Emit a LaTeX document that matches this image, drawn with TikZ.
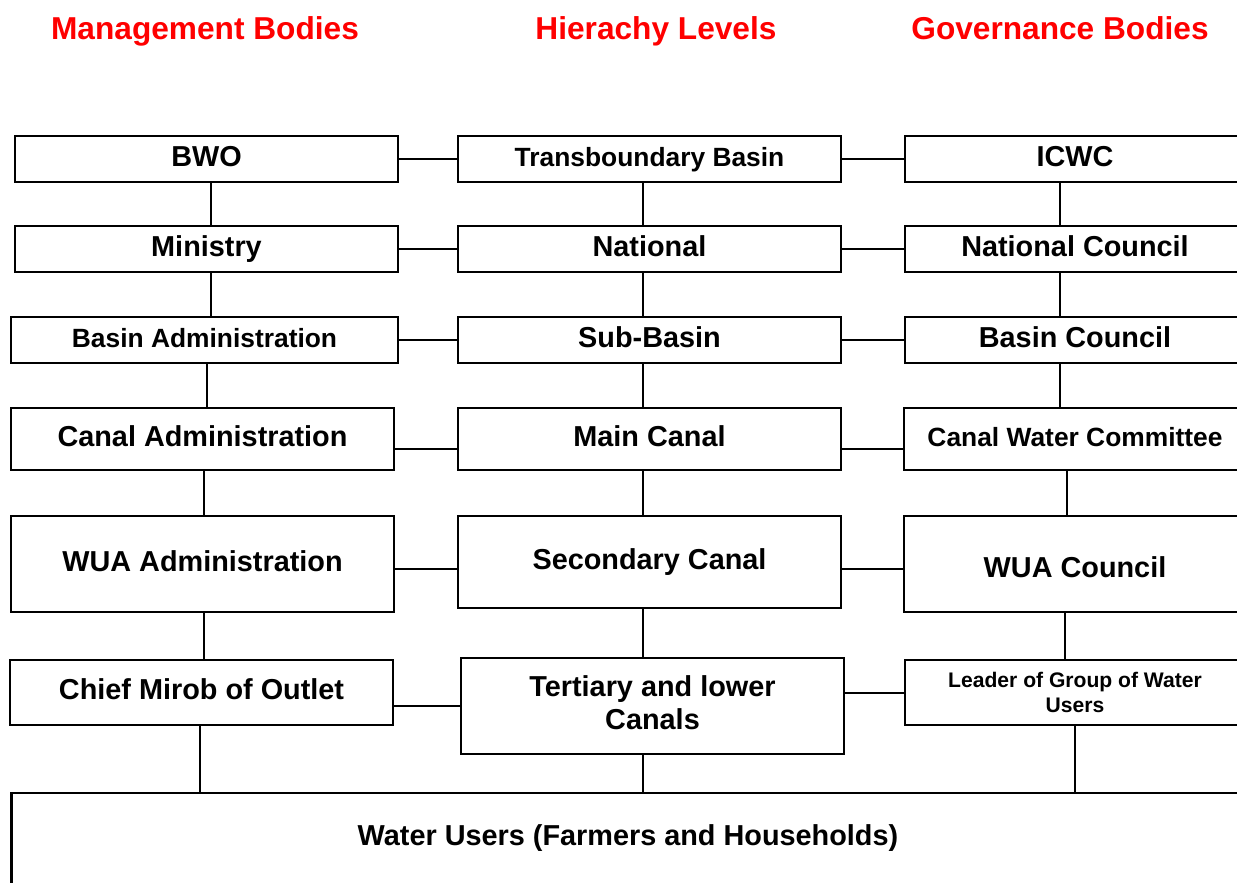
\documentclass[tikz,border=0pt]{standalone}
\usepackage{fontspec}
\setmainfont{Liberation Sans}

\begin{document}
\begin{tikzpicture}[x=0.01cm, y=-0.01cm,
    head/.style={text=red, font=\fontsize{9}{11}\selectfont\bfseries, text height=0.75em, text depth=0.25em},
    box/.style={draw, line width=0.7pt, inner sep=1pt, align=center, font=\fontsize{8.2}{9.4}\selectfont\bfseries},
    lift/.style={text height=0.75em, text depth=0.35em},
    small/.style={font=\fontsize{7.5}{9}\selectfont\bfseries},
    link/.style={line width=0.5pt}]

\useasboundingbox (0,0) rectangle (1237,882);
\clip (0,0) rectangle (1237,882);

\node[head] (mgmt) at (205,31) {Management Bodies};
\node[head] (levels) at (656,31) {Hierachy Levels};
\node[head] (gov) at (1060,31) {Governance Bodies};

\node[box, lift, minimum width=3.83cm, minimum height=0.46cm] (bwo) at (206.5,159) {BWO};
\node[box, minimum width=3.83cm, minimum height=0.46cm] (ministry) at (206.5,249) {Ministry};
\node[box, small, lift, minimum width=3.87cm, minimum height=0.46cm] (basinadm) at (204.5,340) {Basin Administration};
\node[box, lift, minimum width=3.83cm, minimum height=0.62cm] (canaladm) at (202.5,439) {Canal Administration};
\node[box, lift, minimum width=3.83cm, minimum height=0.96cm] (wuaadm) at (202.5,564) {WUA Administration};
\node[box, lift, minimum width=3.83cm, minimum height=0.65cm] (mirob) at (201.5,692.5) {Chief Mirob of Outlet};

\node[box, small, lift, minimum width=3.83cm, minimum height=0.46cm] (trans) at (649.5,159) {Transboundary Basin};
\node[box, lift, minimum width=3.83cm, minimum height=0.46cm] (national) at (649.5,249) {National};
\node[box, lift, minimum width=3.83cm, minimum height=0.46cm] (subbasin) at (649.5,340) {Sub-Basin};
\node[box, lift, minimum width=3.83cm, minimum height=0.62cm] (maincanal) at (649.5,439) {Main Canal};
\node[box, minimum width=3.83cm, minimum height=0.92cm] (secondary) at (649.5,562) {Secondary Canal};
\node[box, minimum width=3.83cm, minimum height=0.96cm, text depth=0.2em] (tertiary) at (652.5,706) {Tertiary and lower\\Canals};

\node[box, lift, minimum width=3.40cm, minimum height=0.46cm] (icwc) at (1075,159) {ICWC};
\node[box, lift, minimum width=3.40cm, minimum height=0.46cm] (natcouncil) at (1075,249) {National Council};
\node[box, lift, minimum width=3.40cm, minimum height=0.46cm] (basincouncil) at (1075,340) {Basin Council};
\node[box, small, lift, minimum width=3.42cm, minimum height=0.62cm] (canalcomm) at (1075,439) {Canal Water Committee};
\node[box, minimum width=3.42cm, minimum height=0.96cm, text height=0.78em, text depth=0pt] (wuacouncil) at (1075,564) {WUA Council};
\node[box, font=\fontsize{6}{7.1}\selectfont\bfseries, minimum width=3.40cm, minimum height=0.65cm] (leader) at (1075,692.5) {Leader of Group of Water\\Users};

\node[box, minimum width=12.32cm, minimum height=0.97cm, text depth=3.8pt] (users) at (628,841.5) {Water Users (Farmers and Households)};

\foreach \a/\b in {bwo/trans, trans/icwc, ministry/national, national/natcouncil, basinadm/subbasin, subbasin/basincouncil}
    \draw[link] (\a) -- (\b);

\coordinate (r4) at ([yshift=-0.1cm]canaladm.east);
\coordinate (r4b) at ([yshift=-0.1cm]maincanal.east);
\draw[link] (r4) -- (r4 -| maincanal.west);
\draw[link] (r4b) -- (r4b -| canalcomm.west);
\coordinate (r5) at ([yshift=-0.05cm]wuaadm.east);
\coordinate (r5b) at ([yshift=-0.05cm]wuacouncil.west);
\draw[link] (r5) -- (r5 -| secondary.west);
\draw[link] (r5b) -- (r5b -| secondary.east);
\coordinate (r6) at ([yshift=-0.135cm]mirob.east);
\coordinate (r6b) at ([yshift=0.13cm]tertiary.east);
\draw[link] (r6) -- (r6 -| tertiary.west);
\draw[link] (r6b) -- (r6b -| leader.west);

\foreach \a/\b/\s in {bwo/ministry/0.045, ministry/basinadm/0.045, basinadm/canaladm/0.025, canaladm/wuaadm/0.015, wuaadm/mirob/0.015, mirob/users/-0.015,
    trans/national/-0.065, national/subbasin/-0.065, subbasin/maincanal/-0.065, maincanal/secondary/-0.065, secondary/tertiary/-0.065, tertiary/users/-0.095,
    icwc/natcouncil/-0.15, natcouncil/basincouncil/-0.15, basincouncil/canalcomm/-0.15, canalcomm/wuacouncil/-0.08, wuacouncil/leader/-0.1, leader/users/0}
{
    \coordinate (top) at ([xshift=\s cm]\a.south);
    \draw[link] (top) -- (top |- \b.north);
}
\end{tikzpicture}
\end{document}
